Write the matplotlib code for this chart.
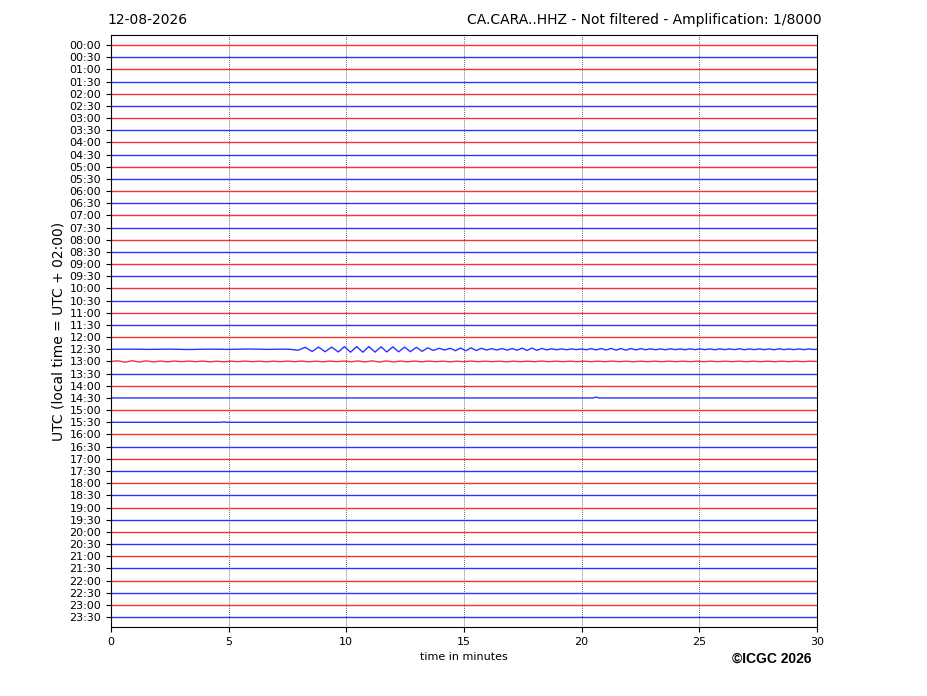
import matplotlib
matplotlib.use("Agg")
import matplotlib.pyplot as plt

# ---- data ----
row_labels = ["00:00", "00:30", "01:00", "01:30", "02:00", "02:30", "03:00", "03:30",
              "04:00", "04:30", "05:00", "05:30", "06:00", "06:30", "07:00", "07:30",
              "08:00", "08:30", "09:00", "09:30", "10:00", "10:30", "11:00", "11:30",
              "12:00", "12:30", "13:00", "13:30", "14:00", "14:30", "15:00", "15:30",
              "16:00", "16:30", "17:00", "17:30", "18:00", "18:30", "19:00", "19:30",
              "20:00", "20:30", "21:00", "21:30", "22:00", "22:30", "23:00", "23:30"]
x_ticks = [0, 5, 10, 15, 20, 25, 30]

quiet_t = [0.0, 30.0]
quiet_a = [0.0, 0.0]

# 12:30 row: earthquake (minute, amplitude in row units, up positive)
quake_t = [0.0, 0.8, 1.6, 2.5, 3.3, 4.2, 5.0, 5.9, 6.7, 7.3, 7.60, 7.95, 8.25, 8.55, 8.82,
           9.10, 9.38, 9.66, 9.92, 10.18, 10.44, 10.70, 10.96, 11.22, 11.48, 11.72,
           11.98, 12.22, 12.48, 12.72, 12.98, 13.22, 13.46, 13.70, 13.94, 14.18, 14.42,
           14.64, 14.86, 15.08, 15.30, 15.52, 15.74, 15.96, 16.18, 16.40, 16.62, 16.84,
           17.05, 17.26, 17.47, 17.68, 17.89, 18.10, 18.31, 18.52, 18.73, 18.94, 19.15,
           19.36, 19.57, 19.78, 19.99, 20.20, 20.41, 20.62, 20.83, 21.04, 21.25, 21.46,
           21.67, 21.88, 22.09, 22.30, 22.51, 22.72, 22.93, 23.14, 23.35, 23.56, 23.77,
           23.98, 24.19, 24.40, 24.61, 24.82, 25.03, 25.24, 25.45, 25.66, 25.87, 26.08,
           26.29, 26.50, 26.71, 26.92, 27.13, 27.34, 27.55, 27.76, 27.97, 28.18, 28.39,
           28.60, 28.81, 29.02, 29.23, 29.44, 29.65, 29.86, 30.00]
quake_a = [0.0, 0.01, -0.01, 0.01, -0.02, 0.01, -0.01, 0.02, -0.01, 0.01, 0.00, -0.08,
           0.16, -0.18, 0.18, -0.20, 0.18, -0.22, 0.22, -0.24, 0.22, -0.24, 0.22, -0.23,
           0.20, -0.22, 0.20, -0.21, 0.18, -0.20, 0.16, -0.17, 0.12, -0.10, 0.08, -0.06,
           0.08, -0.12, 0.10, -0.12, 0.12, -0.10, 0.08, -0.06, 0.05, -0.06, 0.06, -0.07,
           0.06, -0.08, 0.09, -0.10, 0.10, -0.09, 0.07, -0.05, 0.04, -0.04, 0.03, -0.04,
           0.03, -0.03, 0.03, -0.04, 0.05, -0.05, 0.06, -0.06, 0.07, -0.07, 0.06, -0.07,
           0.06, -0.05, 0.05, -0.04, 0.04, -0.04, 0.03, -0.04, 0.04, -0.03, 0.03, -0.04,
           0.04, -0.03, 0.03, -0.03, 0.03, -0.04, 0.04, -0.03, 0.03, -0.03, 0.04, -0.04,
           0.03, -0.03, 0.03, -0.03, 0.03, -0.04, 0.04, -0.03, 0.03, -0.03, 0.03, -0.03,
           0.03, -0.02, 0.00]

# 13:00 row: small continuous wiggles
r1300_t = [0.0, 0.3, 0.6, 0.9, 1.2, 1.5, 1.8, 2.1, 2.4, 2.7, 3.0, 3.3, 3.6, 3.9, 4.2,
           4.5, 4.8, 5.1, 5.4, 5.7, 6.0, 6.3, 6.6, 6.9, 7.2, 7.5, 7.8, 8.1, 8.4, 8.7,
           9.0, 9.3, 9.6, 9.9, 10.2, 10.5, 10.8, 11.1, 11.4, 11.7, 12.0, 12.3, 12.6,
           12.9, 13.2, 13.5, 13.8, 14.1, 14.4, 14.7, 15.0, 15.3, 15.6, 15.9, 16.2,
           16.5, 16.8, 17.1, 17.4, 17.7, 18.0, 18.3, 18.6, 18.9, 19.2, 19.5, 19.8,
           20.1, 20.4, 20.7, 21.0, 21.3, 21.6, 21.9, 22.2, 22.5, 22.8, 23.1, 23.4,
           23.7, 24.0, 24.3, 24.6, 24.9, 25.2, 25.5, 25.8, 26.1, 26.4, 26.7, 27.0,
           27.3, 27.6, 27.9, 28.2, 28.5, 28.8, 29.1, 29.4, 29.7, 30.0]
r1300_a = [0.0, 0.05, -0.06, 0.06, -0.05, 0.05, -0.04, 0.03, -0.03, 0.03, -0.02, 0.03,
           -0.02, 0.03, -0.03, 0.02, -0.03, 0.02, -0.02, 0.03, -0.02, 0.02, -0.03, 0.02,
           -0.02, 0.03, -0.02, 0.03, -0.03, 0.02, -0.03, 0.03, -0.02, 0.03, -0.03, 0.04,
           -0.04, 0.05, -0.05, 0.04, -0.04, 0.03, -0.03, 0.03, -0.03, 0.03, -0.02, 0.02,
           -0.03, 0.02, -0.02, 0.03, -0.02, 0.02, -0.02, 0.02, -0.03, 0.02, -0.02, 0.02,
           -0.02, 0.03, -0.02, 0.02, -0.02, 0.02, -0.02, 0.02, -0.02, 0.02, -0.02, 0.03,
           -0.02, 0.02, -0.03, 0.02, -0.02, 0.02, -0.02, 0.02, -0.02, 0.02, -0.02, 0.02,
           -0.02, 0.02, -0.02, 0.02, -0.02, 0.02, -0.02, 0.02, -0.02, 0.02, -0.02, 0.02,
           -0.02, 0.02, -0.02, 0.02, 0.0]

# small blips
r1430_t = [0.0, 20.50, 20.62, 20.74, 30.0]
r1430_a = [0.0, 0.0, 0.07, 0.0, 0.0]
r1530_t = [0.0, 4.70, 4.80, 4.90, 30.0]
r1530_a = [0.0, 0.0, 0.04, 0.0, 0.0]

traces = {
    "12:30": (quake_t, quake_a),
    "13:00": (r1300_t, r1300_a),
    "14:30": (r1430_t, r1430_a),
    "15:30": (r1530_t, r1530_a),
}

# ---- figure ----
fig = plt.figure(figsize=(9.27, 6.96), dpi=100)
ax = fig.add_axes([0.1197, 0.0991, 0.7616, 0.8506])

colors = ["#ff3030", "#3030ff"]
for i, lab in enumerate(row_labels):
    t, a = traces.get(lab, (quiet_t, quiet_a))
    y = [i - v for v in a]
    ax.plot(t, y, color=colors[i % 2], lw=1.0, solid_joinstyle="round")

ax.set_xlim(0, 30)
ax.set_ylim(len(row_labels) - 1 + 0.82, -0.82)
ax.set_yticks(range(len(row_labels)))
ax.set_yticklabels(row_labels, fontsize=8)
ax.set_xticks(x_ticks)
ax.set_xticklabels([str(v) for v in x_ticks], fontsize=8)
for v in x_ticks[1:-1]:
    ax.axvline(v, color="black", lw=0.6, ls=(0, (1, 1.5)), alpha=0.8, zorder=0)

ax.set_xlabel("time in minutes", fontsize=8, labelpad=4)
ax.set_ylabel("UTC (local time = UTC + 02:00)", fontsize=10, labelpad=3)

fig.text(107 / 927, 1 - 20 / 696, "12-08-2026", fontsize=10, ha="left", va="center")
fig.text(822 / 927, 1 - 20 / 696, "CA.CARA..HHZ - Not filtered - Amplification: 1/8000",
         fontsize=10, ha="right", va="center")
fig.text(811 / 927, 1 - 659 / 696, "©ICGC 2026", fontsize=10, fontweight="bold",
         family="Liberation Sans", ha="right", va="center")

fig.savefig("out.png", dpi=100)
